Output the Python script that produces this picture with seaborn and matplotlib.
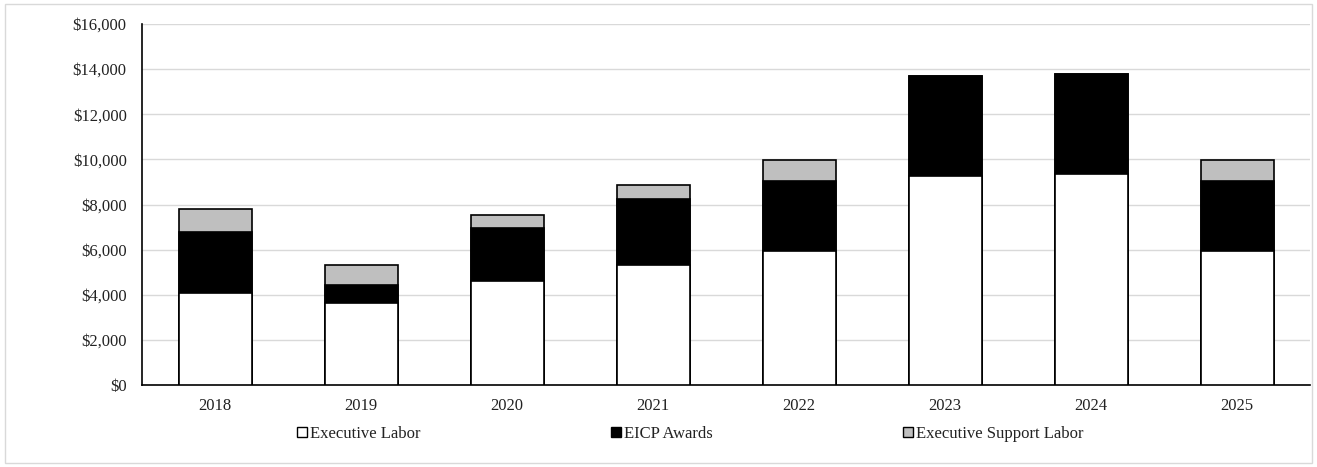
import numpy as np
import pandas as pd
import matplotlib
matplotlib.use("Agg")
import matplotlib.pyplot as plt
from matplotlib.patches import Patch, Rectangle
from matplotlib.ticker import FuncFormatter
import seaborn as sns

years = ["2018", "2019", "2020", "2021", "2022", "2023", "2024", "2025"]
executive_labor = [4070, 3630, 4620, 5310, 5950, 9270, 9340, 5950]
eicp_awards = [2730, 780, 2360, 2950, 3110, 4440, 4450, 3110]
support_labor = [990, 920, 560, 610, 930, 0, 0, 930]
series_names = ["Executive Labor", "EICP Awards", "Executive Support Labor"]
series_colors = ["#ffffff", "#000000", "#bfbfbf"]

sns.set_theme(style="white")
plt.rcParams["font.family"] = ["Liberation Serif", "DejaVu Serif"]

df = pd.DataFrame({
    "year": years,
    "labor": executive_labor,
    "eicp": eicp_awards,
    "support": support_labor,
})
df["lvl1"] = df["labor"]
df["lvl2"] = df["labor"] + df["eicp"]
df["lvl3"] = df["lvl2"] + df["support"]

fig = plt.figure(figsize=(13.17, 4.67), dpi=100)
ax = fig.add_axes([142 / 1317, 1 - 385 / 467, (1310 - 142) / 1317, (385 - 24) / 467])

# Stack by drawing cumulative totals from the top layer down
for col, color in zip(["lvl3", "lvl2", "lvl1"], series_colors[::-1]):
    sns.barplot(data=df, x="year", y=col, color=color, width=0.5,
                edgecolor="black", linewidth=1.2, saturation=1, ax=ax,
                errorbar=None, zorder=3)

ax.set_ylim(0, 16000)
ax.set_xlim(-0.5, 7.5)
ax.set_yticks(np.arange(0, 16001, 2000))
ax.yaxis.set_major_formatter(FuncFormatter(lambda v, p: f"${v:,.0f}"))
ax.set_xlabel("")
ax.set_ylabel("")
ax.grid(axis="y", color="#d9d9d9", linewidth=1, zorder=0)
ax.set_axisbelow(True)
for s in ["top", "right"]:
    ax.spines[s].set_visible(False)
for s in ["left", "bottom"]:
    ax.spines[s].set_color("black")
    ax.spines[s].set_linewidth(1.2)
ax.tick_params(axis="both", length=0, labelsize=12, colors="#222222")
ax.tick_params(axis="y", pad=11)
ax.tick_params(axis="x", pad=9)

handles = [Patch(facecolor=c, edgecolor="black", linewidth=1) for c in series_colors]
fig.legend(handles, series_names, loc="center", bbox_to_anchor=(0.524, 1 - 434 / 467),
           ncol=3, frameon=False, fontsize=12, handlelength=0.6, handleheight=0.6,
           handletextpad=0.2, columnspacing=11.4, labelcolor="#222222")

# Thin frame around the whole figure
fig.patches.append(Rectangle((5 / 1317, 4 / 467), 1307 / 1317, 459 / 467,
                             transform=fig.transFigure, fill=False,
                             edgecolor="#d9d9d9", linewidth=1))

fig.savefig("out.png", dpi=100)
